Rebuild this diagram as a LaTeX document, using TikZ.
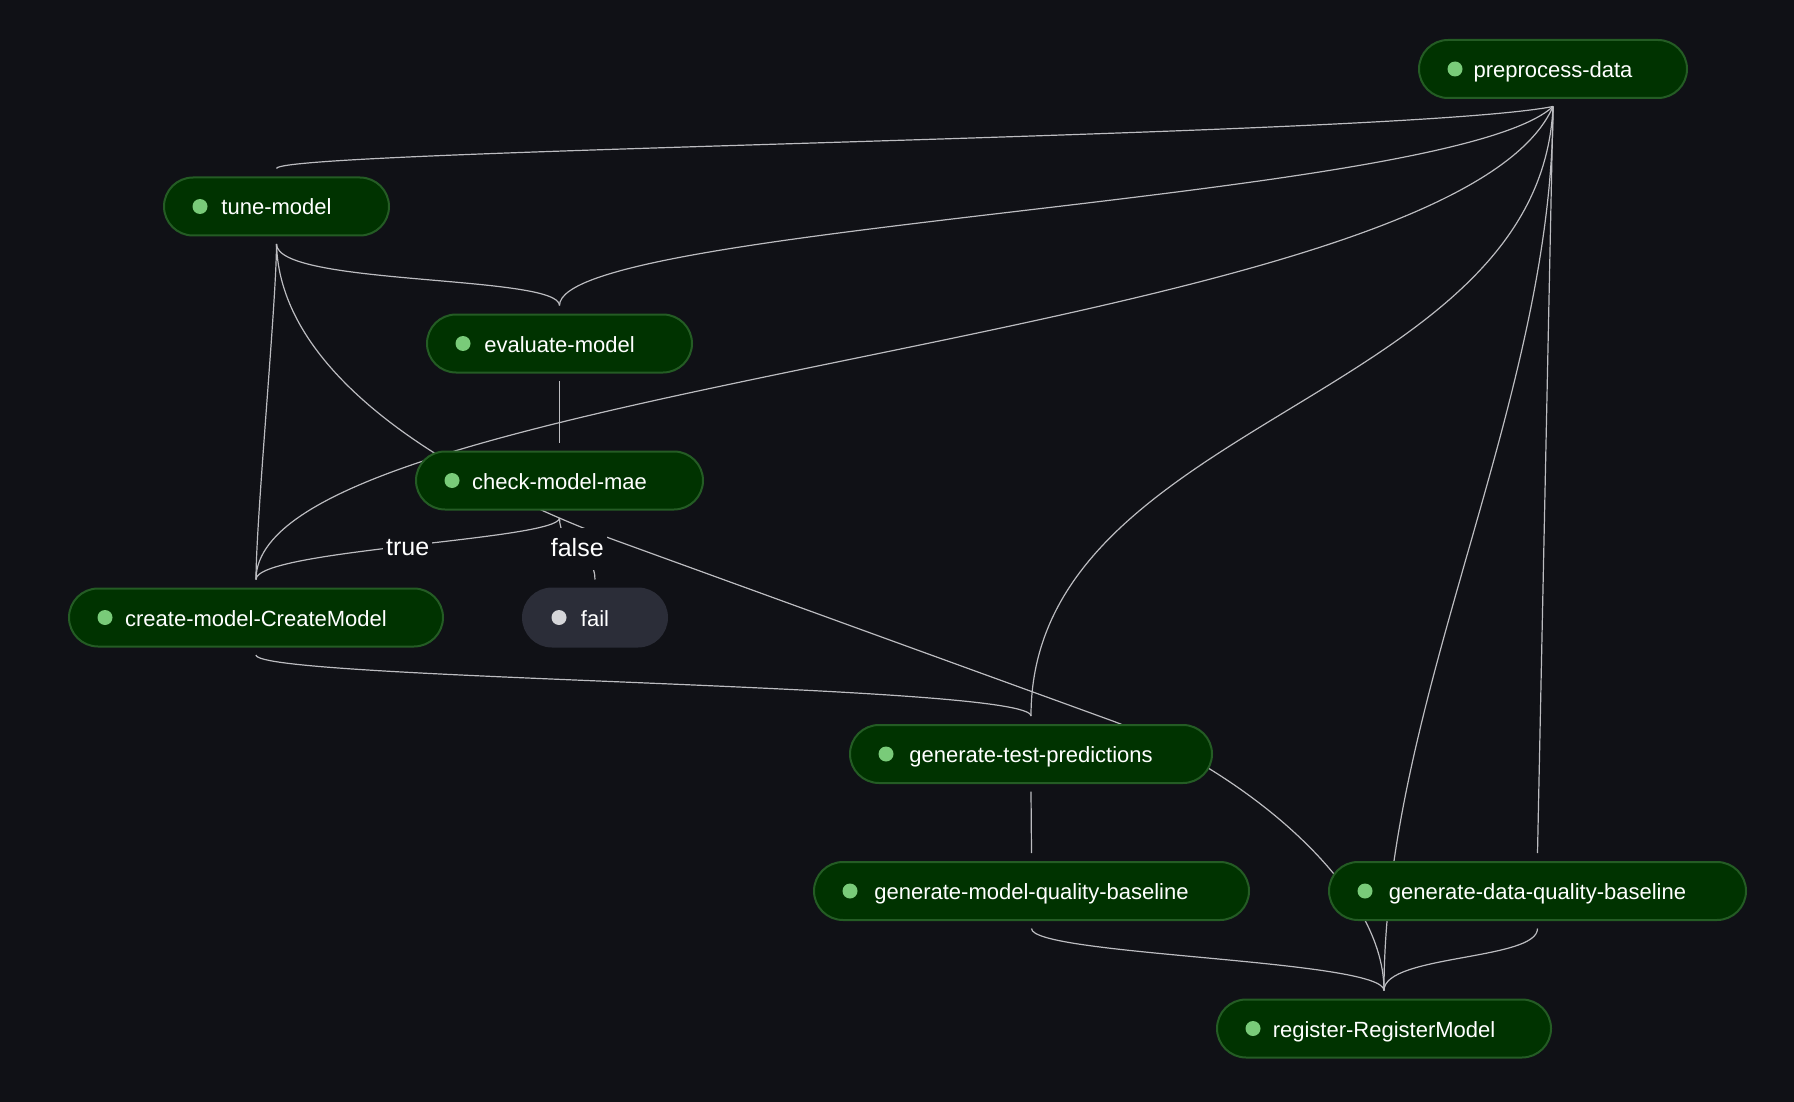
\documentclass[tikz,border=0pt]{standalone}
\usepackage{fontspec}
\setmainfont{Liberation Sans}
\usetikzlibrary{backgrounds}

\definecolor{canvas}{HTML}{101116}
\definecolor{jobfill}{HTML}{003300}
\definecolor{jobline}{HTML}{245C24}
\definecolor{dotgreen}{HTML}{79CB79}
\definecolor{failfill}{HTML}{2B2D38}
\definecolor{dotgray}{HTML}{D6D6D9}
\definecolor{wire}{HTML}{BCBCC0}

\tikzset{
  job/.style={draw=jobline, fill=jobfill, line width=2pt, rounded corners=29pt,
    minimum height=58pt, inner xsep=0pt, text=white, text height=17pt, text depth=0pt,
    font=\fontsize{22}{26}\selectfont,
    path picture={\fill[#1] ([xshift=36pt]path picture bounding box.west) circle (7.5pt);}},
  job/.default=dotgreen,
  flow/.style={draw=wire, line width=1.2pt},
  cond/.style={fill=canvas, text=white, inner xsep=3pt, minimum height=42pt,
    text height=16pt, text depth=0pt, font=\fontsize{25}{30}\selectfont}
}

\begin{document}
\begin{tikzpicture}[x=1pt, y=-1pt]
      \useasboundingbox (0,0) rectangle (1794,1102);

      % Pasos del pipeline
      \node[job, minimum width=268pt] (preprocess) at (1553,69) {preprocess-data};
      \node[job, minimum width=225pt] (tune) at (276.5,206.5) {tune-model};
      \node[job, minimum width=265pt] (evaluate) at (559.5,343.5) {evaluate-model};
      \node[job, minimum width=287pt] (check) at (559.5,480.5) {check-model-mae};
      \node[job, minimum width=374pt] (create) at (256,617.5) {create-model-CreateModel};
      \node[job=dotgray, fill=failfill, draw=failfill, minimum width=144pt] (fail) at (595,617.5) {fail};
      \node[job, minimum width=362pt] (testpred) at (1031,754) {generate-test-predictions};
      \node[job, minimum width=435pt] (modelqb) at (1031.5,891) {generate-model-quality-baseline};
      \node[job, minimum width=417pt] (dataqb) at (1537.5,891) {generate-data-quality-baseline};
      \node[job, minimum width=334pt] (register) at (1384,1028.5) {register-RegisterModel};

      \begin{pgfonlayer}{background}
      % Fondo
      \fill[canvas] (0,0) rectangle (1794,1102);

      % Dependencias de preprocess-data
      \draw[flow] ([yshift=-7.5pt]preprocess.south) .. controls +(-153,30) and +(0,-19) .. ([yshift=8pt]tune.north);
      \draw[flow] ([yshift=-7.5pt]preprocess.south) .. controls +(-103,95) and +(0,-81) .. ([yshift=8pt]evaluate.north);
      \draw[flow] ([yshift=-7.5pt]preprocess.south) .. controls +(-103,235) and +(0,-200) .. ([yshift=8pt]create.north);
      \draw[flow] ([yshift=-7.5pt]preprocess.south) .. controls +(-13,295) and +(0,-297) .. ([yshift=8pt]testpred.north);
      \draw[flow] ([yshift=-7.5pt]preprocess.south) -- ([yshift=8pt]dataqb.north);
      \draw[flow] ([yshift=-7.5pt]preprocess.south) .. controls +(0,295) and +(0,-291) .. ([yshift=8pt]register.north);

      % Dependencias de tune-model
      \draw[flow] ([yshift=-7.5pt]tune.south) .. controls +(0,42) and +(0,-31) .. ([yshift=8pt]evaluate.north);
      \draw[flow] ([yshift=-7.5pt]tune.south) .. controls +(0,57) and +(0,-60) .. ([yshift=8pt]create.north);
      \draw[flow] ([yshift=-7.5pt]tune.south) .. controls +(4,157) and (520,506) .. (620,542)
        -- (1110,720) .. controls (1230,763.5) and +(0,-110) .. ([yshift=8pt]register.north);

      % Resto de conexiones
      \draw[flow] ([yshift=-7.5pt]evaluate.south) -- ([yshift=8pt]check.north);
      \draw[flow] ([yshift=-7.5pt]create.south) .. controls +(0,25) and +(0,-32) .. ([yshift=8pt]testpred.north);
      \draw[flow] ([yshift=-7.5pt]testpred.south) -- ([yshift=8pt]modelqb.north);
      \draw[flow] ([yshift=-7.5pt]modelqb.south) .. controls +(0,27) and +(0,-31) .. ([yshift=8pt]register.north);
      \draw[flow] ([yshift=-7.5pt]dataqb.south) .. controls +(0,32) and +(0,-36) .. ([yshift=8pt]register.north);

      % Condicion
      \draw[flow] ([yshift=-7.5pt]check.south) .. controls +(0,22) and +(0,-30) .. node[cond, midway, yshift=-2pt] {true} ([yshift=8pt]create.north);
      \draw[flow] ([yshift=-7.5pt]check.south) .. controls +(0,30) and +(0,-30) .. node[cond, midway] {false} ([yshift=8pt]fail.north);
      \end{pgfonlayer}
    \end{tikzpicture}
\end{document}
